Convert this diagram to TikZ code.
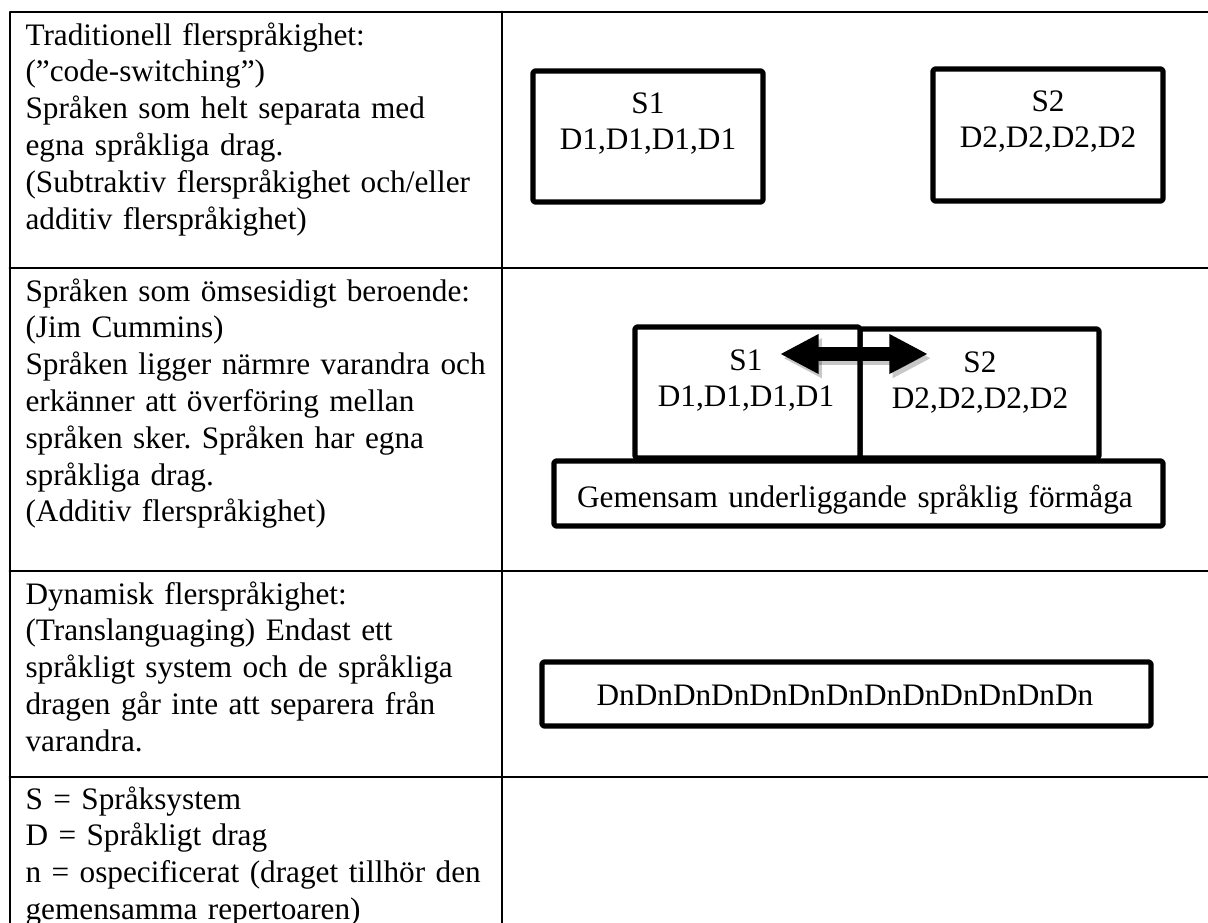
\documentclass[tikz,border=0pt]{standalone}
\usepackage{fontspec}
\setmainfont{Liberation Serif}
\usetikzlibrary{arrows.meta,fit,shadows}
\frenchspacing
\tikzset{
  every picture/.style={font=\fontsize{11.8}{13.9}\selectfont, line join=round, line cap=round},
  tblline/.style={line width=1.1pt},
  sysbox/.style={draw, fill=white, line width=1.9pt, inner sep=0pt, rounded corners=0.6pt,
    drop shadow={shadow xshift=0.5pt, shadow yshift=-0.5pt, opacity=0.3}},
  celltext/.style={anchor=base west, align=left, text width=180pt, inner sep=0pt},
  boxtext/.style={anchor=base, align=center, text width=240pt, inner sep=0pt},
  bigarrow/.style={line width=5pt, line cap=butt,
    arrows={Triangle[length=14.6pt,width=14pt]-Triangle[length=14.6pt,width=14pt]}},
}

\begin{document}
\begin{tikzpicture}[x=0.3774pt,y=-0.3774pt]
\useasboundingbox (0,0) rectangle (1208,922);
% table rules
\draw[tblline] (1230,12) -- (10,12) -- (10,940);
\draw[tblline] (502,12) -- (502,940);
\foreach \yy in {268,571,777} \draw[tblline] (10,\yy) -- (1230,\yy);

% left column
\node[celltext] (tradTxt) at (25,45) {Traditionell flerspråkighet:\\(”code-switching”)\\Språken som helt separata med\\egna språkliga drag.\\(Subtraktiv flerspråkighet och/eller\\additiv flerspråkighet)};
\node[celltext] (depTxt) at (25,301) {Språken som ömsesidigt beroende:\\(Jim Cummins)\\Språken ligger närmre varandra och\\erkänner att överföring mellan\\språken sker. Språken har egna\\språkliga drag.\\(Additiv flerspråkighet)};
\node[celltext] (dynTxt) at (25,604) {Dynamisk flerspråkighet:\\(Translanguaging) Endast ett\\språkligt system och de språkliga\\dragen går inte att separera från\\varandra.};
\node[celltext] (keyTxt) at (25,809) {S = Språksystem\\D = Språkligt drag\\n = ospecificerat (draget tillhör den\\gemensamma repertoaren)};

% separate systems
\node[sysbox, fit={(533,71) (763,202)}] (s1Trad) {};
\node[boxtext] (s1TradTxt) at (648,113) {S1\\D1,D1,D1,D1};
\node[sysbox, fit={(933,69) (1163,201)}] (s2Trad) {};
\node[boxtext] (s2TradTxt) at (1048,111) {S2\\D2,D2,D2,D2};

% interdependent systems
\node[sysbox, fit={(554,461) (1163,526)}] (cupBox) {};
\node[boxtext] (cupTxt) at (855,507) {Gemensam underliggande språklig förmåga};
\node[sysbox, fit={(860,329) (1099,458)}] (s2Dep) {};
\node[sysbox, fit={(635,327) (860,458)}] (s1Dep) {};
\node[boxtext] (s1DepTxt) at (746,370) {S1\\D1,D1,D1,D1};
\node[boxtext] (s2DepTxt) at (980,372) {S2\\D2,D2,D2,D2};
\coordinate (arrL) at (780,354);
\coordinate (arrR) at (928,354);
\draw[bigarrow, opacity=0.22, transform canvas={xshift=1.2pt,yshift=-1.6pt}] (arrL) -- (arrR);
\draw[bigarrow] (arrL) -- (arrR);

% dynamic
\node[sysbox, fit={(542,662) (1151,726)}] (dnBox) {};
\node[boxtext] (dnTxt) at (845,705) {DnDnDnDnDnDnDnDnDnDnDnDnDn};
\end{tikzpicture}
\end{document}
